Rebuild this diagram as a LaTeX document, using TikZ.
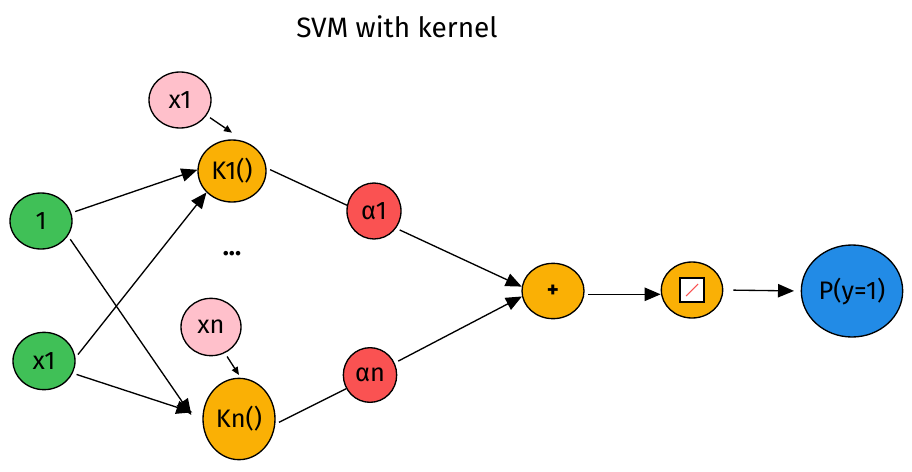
\documentclass[tikz,border=0pt]{standalone}
\usepackage{fontspec}
\setmainfont{Fira Sans}
\usetikzlibrary{shapes.geometric,arrows.meta}
\definecolor{cgreen}{HTML}{40C057}
\definecolor{cpink}{HTML}{FFC0CB}
\definecolor{corange}{HTML}{FAB005}
\definecolor{cred}{HTML}{FA5252}
\definecolor{cblue}{HTML}{228BE6}
\begin{document}
\begin{tikzpicture}[x=0.75pt,y=-0.75pt,
  bub/.style={ellipse, draw=black, line width=1pt, inner sep=0pt, font=\fontsize{19}{21}\selectfont},
  arr/.style={line width=1pt, -{Triangle[length=12pt,width=10pt]}, shorten <=3pt},
  sarr/.style={line width=1pt, -{Triangle[length=6pt,width=5pt]}, shorten <=3pt},
  plain/.style={line width=1pt, shorten <=3pt},
  lbl/.style={font=\fontsize{21}{24}\selectfont}]
\fill[white] (0,0) rectangle (912,471);
\useasboundingbox (0,0) rectangle (912,471);

\node[lbl] (title) at (397,27) {SVM with kernel};

\node[bub, fill=cgreen, minimum width=46.5pt, minimum height=42pt] (one) at (41,221) {1};
\node[bub, fill=cgreen, minimum width=46.5pt, minimum height=43pt] (x1) at (44,361) {x1};
\node[bub, fill=cpink, minimum width=46.5pt, minimum height=42pt] (p1) at (180,100) {x1};
\node[bub, fill=cpink, minimum width=45pt, minimum height=43pt] (pn) at (211,327) {xn};
\node[bub, fill=corange, minimum width=51pt, minimum height=46.5pt] (K1) at (232,171) {K1()};
\node[bub, fill=corange, minimum width=54pt, minimum height=61pt] (Kn) at (239,419) {Kn()};
\node[font=\fontsize{19}{21}\selectfont\bfseries] (dots) at (232,254) {...};
\node[bub, fill=cred, minimum width=40.5pt, minimum height=42pt] (a1) at (374,211) {α1};
\node[bub, fill=cred, minimum width=40pt, minimum height=41pt] (an) at (370,375) {αn};
\node[bub, fill=corange, minimum width=46.5pt, minimum height=41.5pt, font=\fontsize{17}{19}\selectfont\bfseries] (plus) at (553,291) {+};
\node[bub, fill=corange, minimum width=46pt, minimum height=42pt] (sig) at (692,290) {};
\node[bub, fill=cblue, minimum width=76pt, minimum height=69pt] (P) at (852,291) {P(y=1)};

% sigmoid icon
\draw[line width=1pt, fill=white] ([xshift=-9pt,yshift=-9pt]sig.center) rectangle ([xshift=9pt,yshift=9pt]sig.center);
\draw[line width=0.8pt, cred] ([xshift=-4.5pt,yshift=-4.5pt]sig.center) -- ([xshift=4.5pt,yshift=4.5pt]sig.center);

% edges
\draw[arr] (one.15) -- (K1.178);
\draw[arr] (one.-29) -- ([xshift=-8.25pt,yshift=3pt]Kn.west);
\draw[arr] (x1.6) -- (K1.-140);
\draw[arr] (x1.-23) -- ([xshift=-7.5pt,yshift=5pt]Kn.west);
\draw[sarr] (p1.-30) -- ([yshift=5pt]K1.north);
\draw[sarr] (pn.-62) -- ([yshift=2pt]Kn.north);
\draw[plain] (K1.5) -- (a1.168);
\draw[plain] (Kn.-8) -- (an.-150);
\draw[arr] (a1.-38) -- (plus.172);
\draw[arr] (an.26) -- (plus.-170);
\draw[arr] (plus.-6) -- (plus.-6 -| sig.west);
\draw[arr, shorten <=7.5pt, shorten >=5pt] (sig.east) -- (P.west);
\end{tikzpicture}
\end{document}
